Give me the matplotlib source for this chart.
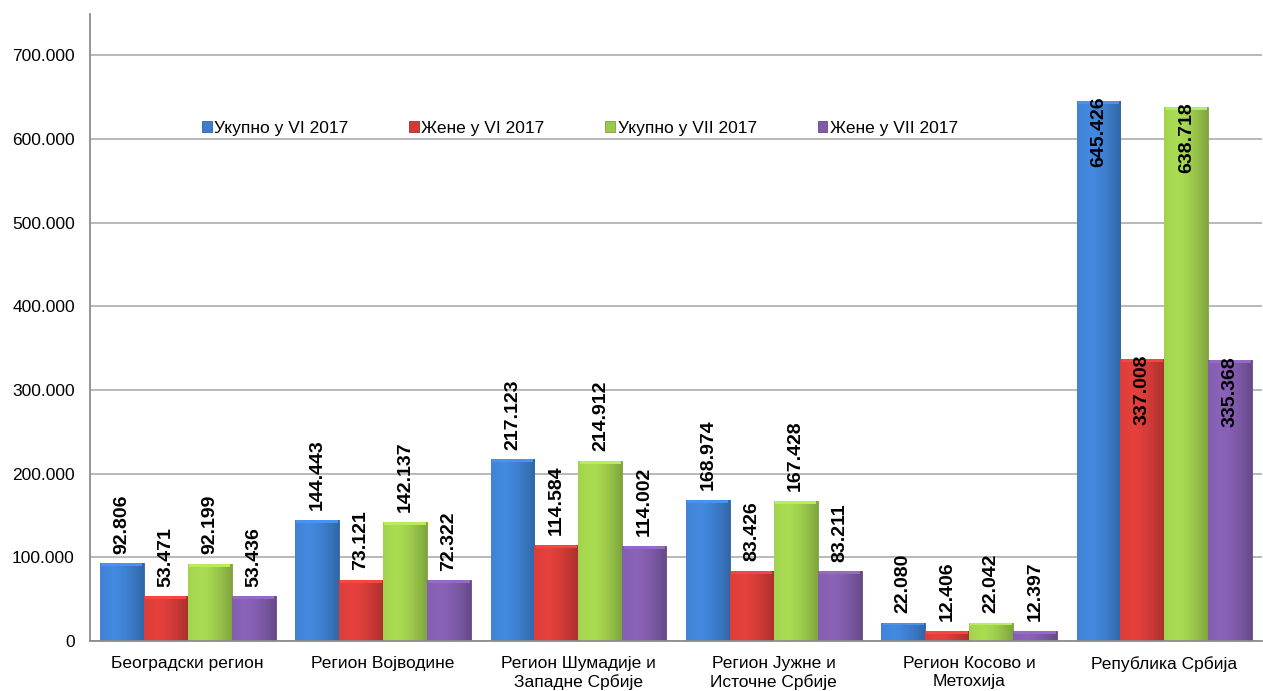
import numpy as np
import matplotlib
matplotlib.use("Agg")
import matplotlib.pyplot as plt
from matplotlib.colors import to_rgb

plt.rcParams['font.family'] = ['Liberation Sans', 'DejaVu Sans']

categories = ["Београдски регион", "Регион Војводине", "Регион Шумадије и\nЗападне Србије",
              "Регион Јужне и\nИсточне Србије", "Регион Косово и\nМетохија", "Република Србија"]
series_names = ["Укупно у VI 2017", "Жене у VI 2017", "Укупно у VII 2017", "Жене у VII 2017"]
ukupno_vi = [92806, 144443, 217123, 168974, 22080, 645426]
zene_vi = [53471, 73121, 114584, 83426, 12406, 337008]
ukupno_vii = [92199, 142137, 214912, 167428, 22042, 638718]
zene_vii = [53436, 72322, 114002, 83211, 12397, 335368]
colors = ["#3D7DCC", "#D13B37", "#9BC94B", "#7E5AA8"]

series = [ukupno_vi, zene_vi, ukupno_vii, zene_vii]

fig = plt.figure(figsize=(12.63, 6.91), dpi=100)
ax = fig.add_axes([0.0713, 0.0724, 0.928, 0.908])

x = np.arange(len(categories))
w = 0.225
offsets = (np.arange(4) - 1.5) * w


def fmt(v):
    return f"{v:,}".replace(",", ".")


for i, (vals, col, name) in enumerate(zip(series, colors, series_names)):
    bars = ax.bar(x + offsets[i], vals, w, color=col, label=name, zorder=2,
                  edgecolor=np.array(to_rgb(col)) * 0.8, linewidth=0.6)
    base = np.array(to_rgb(col))
    t = np.linspace(0, 1, 60)
    fac = 1.1 - 0.05 * np.abs(t - 0.3) / 0.3 * (t < 0.3) - 0.28 * np.clip((t - 0.3) / 0.7, 0, 1) ** 1.5
    grad = np.clip(base[None, :] * fac[:, None], 0, 1)[None, :, :]
    for b, v in zip(bars, vals):
        x0 = b.get_x()
        im = ax.imshow(grad, extent=[x0, x0 + w, 0, v], aspect='auto', zorder=2.1,
                       interpolation='bilinear')
        im.set_clip_path(b)
        # light top bevel
        ax.bar(x0 + w / 2, 3500, w * 0.94, bottom=v - 3500,
               color=np.clip(base * 1.18, 0, 1), zorder=2.2, linewidth=0)
        if v > 300000:
            ax.annotate(fmt(v), (x0 + w / 2, v), xytext=(0, 3), textcoords='offset points',
                        rotation=90, ha='center', va='top', fontsize=14,
                        fontweight='bold', zorder=3)
        else:
            ax.annotate(fmt(v), (x0 + w / 2, v), xytext=(0, 7), textcoords='offset points',
                        rotation=90, ha='center', va='bottom', fontsize=14,
                        fontweight='bold', zorder=3)

ax.set_xlim(-0.5, len(categories) - 0.5)
ax.set_ylim(0, 750000)
ax.set_yticks(np.arange(0, 700001, 100000))
ax.set_yticklabels(["0"] + [fmt(v) for v in range(100000, 700001, 100000)], fontsize=12.5)
ax.set_xticks(x)
ax.set_xticklabels(categories, fontsize=12.5)
ax.tick_params(axis='x', length=0, pad=11)
ax.tick_params(axis='y', length=0, pad=11)
ax.yaxis.grid(True, color='#A6A6A6', linewidth=1.1, zorder=0)
ax.set_axisbelow(True)
for s in ['top', 'right']:
    ax.spines[s].set_visible(False)
for s in ['left', 'bottom']:
    ax.spines[s].set_color('#8C8C8C')
    ax.spines[s].set_linewidth(1.3)

ax.legend(loc='center', bbox_to_anchor=(0.418, 0.817), ncol=4, frameon=False,
          fontsize=12.5, handlelength=0.55, handleheight=0.55, handletextpad=0.15,
          columnspacing=3.5)

fig.savefig("out.png", dpi=100)
